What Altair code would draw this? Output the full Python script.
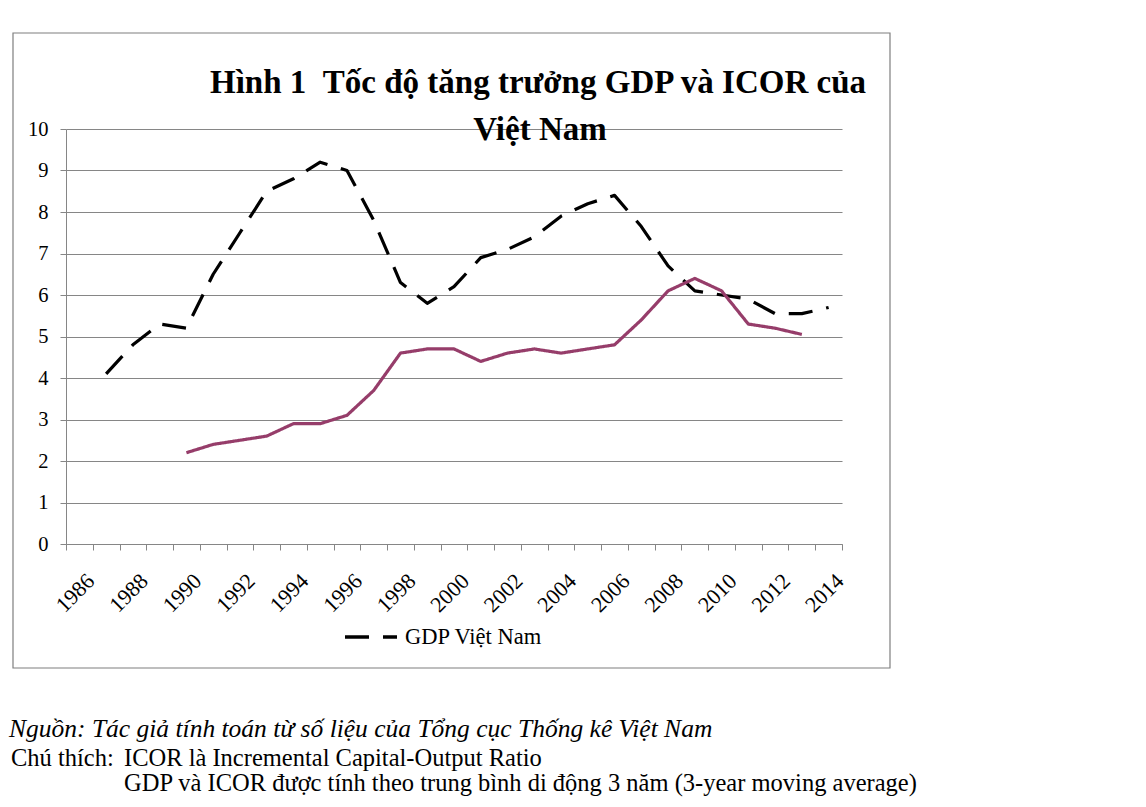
import altair as alt
import pandas as pd

# ---------------- data ----------------
years = [str(y) for y in range(1986, 2015)]
gdp = [None, 4.1, 4.8, 5.3, 5.2, 6.5, 7.5, 8.5, 8.8, 9.2, 9.0, 7.8, 6.3, 5.8, 6.2,
       6.9, 7.1, 7.4, 7.9, 8.2, 8.4, 7.65, 6.7, 6.1, 6.0, 5.9, 5.55, 5.55, 5.7]
icor = [None, None, None, None, 2.2, 2.4, 2.5, 2.6, 2.9, 2.9, 3.1, 3.7, 4.6, 4.7, 4.7,
        4.4, 4.6, 4.7, 4.6, 4.7, 4.8, 5.4, 6.1, 6.4, 6.1, 5.3, 5.2, 5.05, None]
series_names = ["GDP Việt Nam", "ICOR"]
series_colors = ["#000000", "#963D6A"]

title_line1 = "Hình 1\u00a0\u00a0Tốc độ tăng trưởng GDP và ICOR của"
title_line2 = "Việt Nam"
source_note = "Nguồn: Tác giả tính toán từ số liệu của Tổng cục Thống kê Việt Nam"
note_label = "Chú thích:"
note_line1 = "ICOR là Incremental Capital-Output Ratio"
note_line2 = "GDP và ICOR được tính theo trung bình di động 3 năm (3-year moving average)"

rows = []
for name, vals in zip(series_names, [gdp, icor]):
    for y, v in zip(years, vals):
        if v is not None:
            rows.append({"year": y, "value": v, "series": name})
df = pd.DataFrame(rows)

SERIF = "Liberation Serif"
W, H = 776, 415

# ---------------- chart ----------------
frame = alt.Chart(alt.Data(values=[{}])).mark_rect(
    fillOpacity=0, stroke="#7f7f7f", strokeWidth=1.2
).encode(x=alt.value(-53), x2=alt.value(824), y=alt.value(-96), y2=alt.value(539))

xaxis = alt.Axis(
    title=None, labelExpr="toNumber(datum.value) % 2 == 0 ? datum.label : ''",
    labelAngle=-45, labelAlign="right", labelBaseline="middle", labelOffset=11,
    labelPadding=27, labelFont=SERIF, labelFontSize=22, labelColor="black",
    labelOverlap=False, tickBand="extent", tickSize=6, tickColor="#868686",
    domainColor="#868686", grid=False
)
yaxis = alt.Axis(
    title=None, values=list(range(0, 11)), labelFont=SERIF, labelFontSize=20.5,
    labelColor="black", labelPadding=12, tickSize=6, tickColor="#868686",
    domainColor="#868686", gridColor="#868686", gridWidth=1.2
)

leg = dict(values=["GDP Việt Nam"], title=None, orient="none", legendX=277, legendY=480,
           labelFont=SERIF, labelFontSize=22.5, labelColor="black", symbolType="stroke",
           symbolSize=2704, symbolStrokeWidth=3.3, labelOffset=6)

lines = alt.Chart(df).mark_line(strokeWidth=3.2, strokeCap="butt", strokeJoin="round").encode(
    x=alt.X("year:N", scale=alt.Scale(domain=years, paddingInner=0, paddingOuter=0), axis=xaxis),
    y=alt.Y("value:Q", scale=alt.Scale(domain=[0, 10]), axis=yaxis),
    color=alt.Color("series:N", scale=alt.Scale(domain=series_names, range=series_colors),
                    legend=alt.Legend(**leg)),
    strokeDash=alt.StrokeDash("series:N",
                              scale=alt.Scale(domain=series_names, range=[[24, 14], [1, 0]]),
                              legend=alt.Legend(**leg)),
    order=alt.Order("year:N"),
)


def label(text, x, y, size, style="normal", weight="normal", align="left"):
    return alt.Chart(alt.Data(values=[{}])).mark_text(
        align=align, baseline="alphabetic", font=SERIF, fontSize=size,
        fontStyle=style, fontWeight=weight, color="black"
    ).encode(x=alt.value(x), y=alt.value(y), text=alt.value(text))


t1 = label(title_line1, 472, -36, 33, weight="bold", align="center")
t2 = label(title_line2, 474, 11, 33, weight="bold", align="center")
n0 = label(source_note, -57, 608, 25.5, style="italic")
n1 = label(note_label, -55, 637, 24.5)
n2 = label(note_line1, 58, 637, 24.5)
n3 = label(note_line2, 58, 662, 24.5)

chart = alt.layer(frame, lines, t1, t2, n0, n1, n2, n3).properties(
    width=W, height=H,
    autosize=alt.AutoSizeParams(type="none"),
    padding={"left": 58, "top": 121, "right": 296, "bottom": 254},
    background="white",
).configure_view(strokeWidth=0)

chart.save("out.html", embed_options={"renderer": "svg", "actions": False})
